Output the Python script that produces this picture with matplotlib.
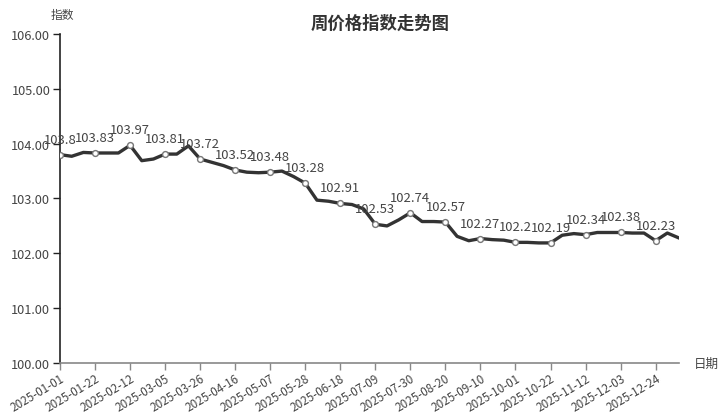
import matplotlib
matplotlib.use("Agg")
import matplotlib.pyplot as plt
import pandas as pd

plt.rcParams['font.family'] = ['Noto Sans CJK SC', 'DejaVu Sans']

dates = [d.strftime('%Y-%m-%d') for d in pd.date_range('2025-01-01', periods=54, freq='7D')]
values = [103.80, 103.77, 103.84, 103.83, 103.83, 103.83, 103.97, 103.69, 103.72, 103.81,
          103.81, 103.96, 103.72, 103.66, 103.60, 103.52, 103.48, 103.47, 103.48, 103.50,
          103.40, 103.28, 102.97, 102.95, 102.91, 102.89, 102.81, 102.53, 102.50, 102.61,
          102.74, 102.58, 102.58, 102.57, 102.31, 102.23, 102.27, 102.25, 102.24, 102.20,
          102.20, 102.19, 102.19, 102.33, 102.36, 102.34, 102.38, 102.38, 102.38, 102.37,
          102.37, 102.23, 102.37, 102.28]
title = '周价格指数走势图'
y_name = '指数'
x_name = '日期'
y_ticks = [100, 101, 102, 103, 104, 105, 106]

fig = plt.figure(figsize=(7.28, 4.14), dpi=100)
ax = fig.add_axes([60/728, 50/414, 619/728, 329/414])

x = list(range(len(values)))
step = 3
marks = list(range(0, len(values), step))
ax.plot(x, values, color='#333333', lw=2.4, zorder=3, solid_joinstyle='round')
ax.plot([x[i] for i in marks], [values[i] for i in marks], 'o', ms=4.2,
        mfc='white', mec='#777777', mew=1.0, zorder=4)
for i in marks:
    ax.annotate(f'{values[i]:g}', (x[i], values[i]), xytext=(0, 6.5),
                textcoords='offset points', ha='center', va='bottom',
                fontsize=9.4, color='#444444', zorder=5)

ax.set_xlim(0, len(values) - 1)
ax.set_ylim(100, 106)
ax.set_yticks(y_ticks)
ax.set_yticklabels([f'{v:.2f}' for v in y_ticks])
ax.set_xticks(marks)
ax.set_xticklabels([dates[i] for i in marks], rotation=31, ha='right',
                   rotation_mode='anchor')

for s in ['top', 'right']:
    ax.spines[s].set_visible(False)
ax.spines['left'].set_color('#222222')
ax.spines['left'].set_linewidth(1.2)
ax.spines['bottom'].set_color('#888888')
ax.spines['bottom'].set_linewidth(1.2)
ax.tick_params(axis='y', colors='#222222', labelcolor='#444444', labelsize=9.2,
               length=5, width=1, pad=2)
ax.tick_params(axis='x', colors='#888888', labelcolor='#444444', labelsize=8.4,
               length=5, width=1, pad=1)

fig.text(380/728, 1 - 24/414, title, ha='center', va='center', fontsize=12.5,
         fontweight='bold', color='#333333')
fig.text(62/728, 1 - 15/414, y_name, ha='center', va='center', fontsize=8.5,
         color='#444444')
fig.text(706/728, 1 - 364/414, x_name, ha='center', va='center', fontsize=9,
         color='#444444')

fig.savefig('out.png', dpi=100)
